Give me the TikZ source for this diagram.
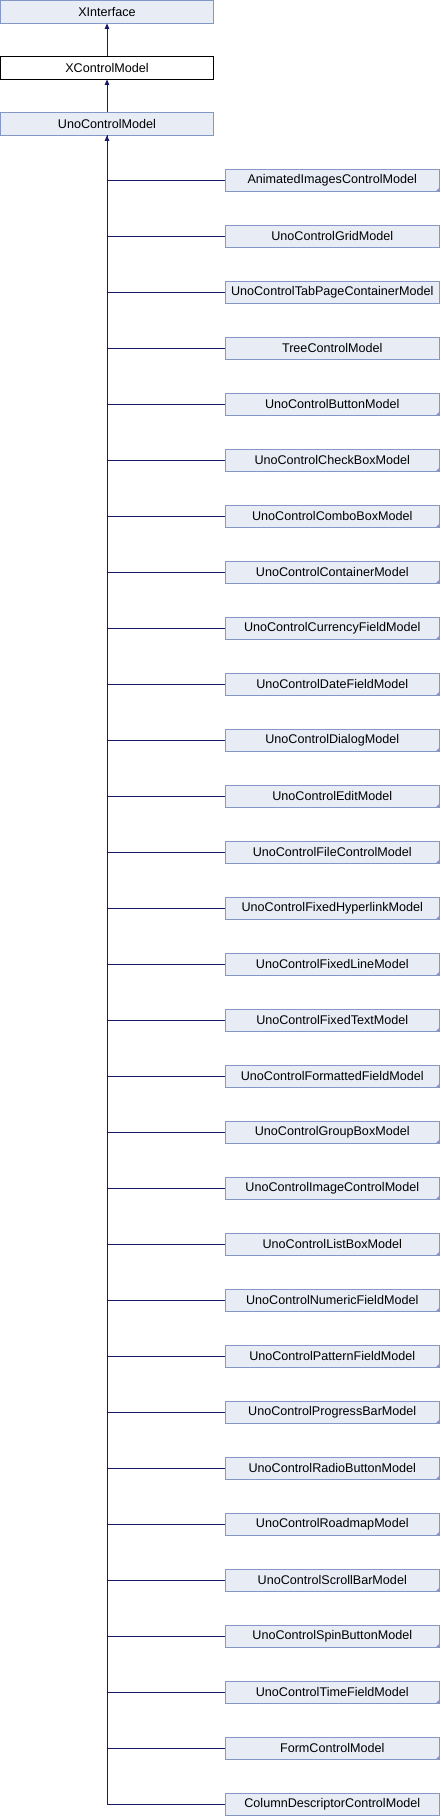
\documentclass[tikz,border=0pt]{standalone}
\usepackage{fontspec}
\setmainfont{Liberation Sans}
\usetikzlibrary{arrows.meta}
\definecolor{boxfill}{HTML}{E8ECF5}
\definecolor{boxdraw}{HTML}{8497C8}
\definecolor{edgecol}{HTML}{191970}
\tikzset{
  cls/.style={draw=boxdraw, fill=boxfill, line width=0.9pt, minimum height=22.5pt, inner sep=0pt, font=\fontsize{12.6}{14}\selectfont, anchor=center},
  topcls/.style={cls, minimum width=213pt},
  cur/.style={cls, draw=black, fill=white, minimum width=213pt},
  child/.style={cls, minimum width=214.5pt},
  edge/.style={draw=edgecol, line width=1pt},
  inh/.style={edge, -{Triangle[width=4.5pt,length=5.5pt]}},
  corner/.style={fill=boxdraw, draw=none}
}
\begin{document}
\begin{tikzpicture}[x=1pt,y=-1pt]
\useasboundingbox (0,0) rectangle (440,1816);
\node[topcls] (xi) at (107,11.75) {XInterface};
\node[cur] (xcm) at (107,67.75) {XControlModel};
\node[topcls] (ucm) at (107,123.75) {UnoControlModel};
\draw[inh] (xcm) -- (xi);
\draw[inh] (ucm) -- (xcm);
\foreach \name/\txt/\mk [count=\i from 0] in {
 c0/AnimatedImagesControlModel/1,
 c1/UnoControlGridModel/0,
 c2/UnoControlTabPageContainerModel/0,
 c3/TreeControlModel/0,
 c4/UnoControlButtonModel/1,
 c5/UnoControlCheckBoxModel/1,
 c6/UnoControlComboBoxModel/1,
 c7/UnoControlContainerModel/1,
 c8/UnoControlCurrencyFieldModel/1,
 c9/UnoControlDateFieldModel/1,
 c10/UnoControlDialogModel/1,
 c11/UnoControlEditModel/1,
 c12/UnoControlFileControlModel/1,
 c13/UnoControlFixedHyperlinkModel/1,
 c14/UnoControlFixedLineModel/1,
 c15/UnoControlFixedTextModel/1,
 c16/UnoControlFormattedFieldModel/1,
 c17/UnoControlGroupBoxModel/1,
 c18/UnoControlImageControlModel/1,
 c19/UnoControlListBoxModel/1,
 c20/UnoControlNumericFieldModel/1,
 c21/UnoControlPatternFieldModel/1,
 c22/UnoControlProgressBarModel/1,
 c23/UnoControlRadioButtonModel/1,
 c24/UnoControlRoadmapModel/1,
 c25/UnoControlScrollBarModel/1,
 c26/UnoControlSpinButtonModel/1,
 c27/UnoControlTimeFieldModel/1,
 c28/FormControlModel/1,
 c29/ColumnDescriptorControlModel/0} {
  \node[child] (\name) at (332.25,{180.25+56*\i}) {\txt};
  \ifnum\mk=1
    \fill[corner] ([xshift=-0.45pt,yshift=0.45pt]\name.south east) -- ++(-4,0) -- ++(4,-4) -- cycle;
  \fi
  \ifnum\i=29
    \draw[inh] (\name.west) -| (ucm.south);
  \else
    \draw[edge] (\name.west) -| (ucm.south);
  \fi
}
\end{tikzpicture}
\end{document}
